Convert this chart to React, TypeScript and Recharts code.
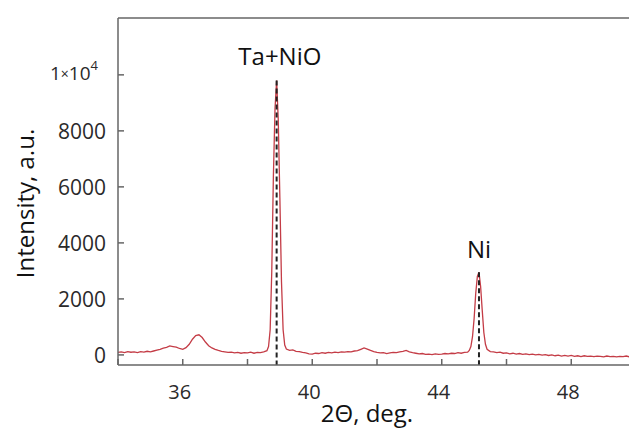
import {
  Line,
  LineChart,
  ReferenceDot,
  ReferenceLine,
  XAxis,
  YAxis,
  Label,
} from "recharts";

// 2θ positions (deg) and measured intensity (a.u.)
const twoTheta = [
  34.0, 34.1, 34.2, 34.3, 34.4, 34.5, 34.6, 34.7, 34.8, 34.9,
  35.0, 35.1, 35.2, 35.3, 35.4, 35.5, 35.6, 35.7, 35.8, 35.9,
  36.0, 36.1, 36.2, 36.3, 36.4, 36.5, 36.6, 36.7, 36.8, 36.9,
  37.0, 37.1, 37.2, 37.3, 37.4, 37.5, 37.6, 37.7, 37.8, 37.9,
  38.0, 38.1, 38.2, 38.3, 38.4, 38.5, 38.6, 38.65, 38.7, 38.75,
  38.8, 38.85, 38.9, 38.95, 39.0, 39.05, 39.1, 39.15, 39.2, 39.3,
  39.4, 39.5, 39.6, 39.7, 39.8, 39.9, 40.0, 40.1, 40.2, 40.3,
  40.4, 40.5, 40.6, 40.7, 40.8, 40.9, 41.0, 41.1, 41.2, 41.3,
  41.4, 41.5, 41.6, 41.7, 41.8, 41.9, 42.0, 42.1, 42.2, 42.3,
  42.4, 42.5, 42.6, 42.7, 42.8, 42.9, 43.0, 43.1, 43.2, 43.3,
  43.4, 43.5, 43.6, 43.7, 43.8, 43.9, 44.0, 44.1, 44.2, 44.3,
  44.4, 44.5, 44.6, 44.7, 44.8, 44.85, 44.9, 44.95, 45.0, 45.05,
  45.1, 45.15, 45.2, 45.25, 45.3, 45.35, 45.4, 45.5, 45.6, 45.7,
  45.8, 45.9, 46.0, 46.1, 46.2, 46.3, 46.4, 46.5, 46.6, 46.7,
  46.8, 46.9, 47.0, 47.1, 47.2, 47.3, 47.4, 47.5, 47.6, 47.7,
  47.8, 47.9, 48.0, 48.1, 48.2, 48.3, 48.4, 48.5, 48.6, 48.7,
  48.8, 48.9, 49.0, 49.1, 49.2, 49.3, 49.4, 49.5, 49.6, 49.7,
  49.8, 49.9, 50.0,
];

const intensity = [
  90, 110, 80, 120, 95, 105, 85, 115, 100, 130,
  110, 140, 170, 200, 240, 270, 320, 300, 280, 230,
  200, 260, 380, 560, 690, 720, 620, 460, 330, 250,
  200, 160, 130, 110, 90, 100, 70, 90, 60, 80,
  70, 100, 60, 90, 80, 110, 150, 300, 900, 3000,
  6400, 8800, 9800, 8400, 5600, 2600, 900, 350, 210, 160,
  180, 130, 120, 90, 70, 40, 30, 60, 50, 80,
  60, 90, 70, 100, 80, 110, 100, 120, 110, 140,
  150, 200, 250, 210, 160, 120, 90, 70, 80, 50,
  70, 90, 80, 110, 130, 160, 110, 80, 60, 40,
  50, 20, 30, 10, 40, 20, 30, 50, 40, 60,
  50, 80, 60, 90, 100, 160, 300, 650, 1300, 2200,
  2800, 2950, 2450, 1600, 800, 380, 200, 120, 110, 80,
  100, 60, 70, 40, 60, 30, 50, 20, 40, 10,
  30, 0, 20, -10, 10, -20, 0, -30, -10, -40,
  -20, -40, -20, -50, -30, -60, -30, -50, -40, -60,
  -40, -50, -70, -40, -60, -50, -70, -50, -60, -40,
  -70, -50, -60,
];

const xTicks = [34, 36, 38, 40, 42, 44, 46, 48, 50];
const xLabelled = [36, 40, 44, 48];
const yTicks = [0, 2000, 4000, 6000, 8000, 10000];

const peakNames = ["Ta+NiO", "Ni"];
const peakPos = [38.9, 45.15];
const peakTop = [9800, 2950];
const peakLabelY = [10650, 3750];

const data = twoTheta.map((t, i) => ({ t, v: intensity[i] }));

const FONT = "'Open Sans', 'DejaVu Sans', sans-serif";
const AXIS = "#666";
const TEXT = "#2a2a2a";
const RED = "#c43c46";

const Y_MIN = -360;
const Y_MAX = 12030;

function XTick({ x, y, payload }: any) {
  if (!xLabelled.includes(payload.value)) return null;
  return (
    <text
      x={x - 3}
      y={y}
      textAnchor="middle"
      dominantBaseline="central"
      fontFamily={FONT}
      fontSize={20}
      fill={TEXT}
    >
      {payload.value}
    </text>
  );
}

function YTick({ x, y, payload }: any) {
  if (payload.value === 10000) {
    return (
      <text
        x={x - 8}
        y={y - 2}
        textAnchor="end"
        dominantBaseline="central"
        fontFamily={FONT}
        fontSize={19}
        fill={TEXT}
      >
        1<tspan fontSize={14}>×</tspan>10
        <tspan dy={-8} fontSize={13}>
          4
        </tspan>
      </text>
    );
  }
  return (
    <text
      x={x}
      y={y}
      textAnchor="end"
      dominantBaseline="central"
      fontFamily={FONT}
      fontSize={21}
      fill={TEXT}
    >
      {payload.value}
    </text>
  );
}

export default function App() {
  return (
    <div
      style={{
        position: "absolute",
        left: 0,
        top: 0,
        width: 629,
        height: 430,
        overflow: "hidden",
        background: "#fff",
      }}
    >
      <LineChart
        width={640}
        height={430}
        data={data}
        margin={{ top: 8, right: 4, bottom: 5, left: 58 }}
      >
        <XAxis
          dataKey="t"
          type="number"
          domain={[34, 50]}
          ticks={xTicks}
          allowDataOverflow
          height={60}
          tickSize={-6}
          tickMargin={32}
          tick={<XTick />}
          axisLine={{ stroke: AXIS, strokeWidth: 1.5 }}
          tickLine={{ stroke: AXIS, strokeWidth: 1.5 }}
        >
          <Label
            content={({ viewBox }: any) => (
              <text
                x={viewBox.x + viewBox.width / 2 - 10}
                y={viewBox.y + 47}
                textAnchor="middle"
                dominantBaseline="central"
                fontFamily={FONT}
                fontSize={24}
                fill="#111"
              >
                2Θ, deg.
              </text>
            )}
          />
        </XAxis>
        <XAxis
          xAxisId="top"
          orientation="top"
          type="number"
          domain={[34, 50]}
          ticks={xTicks}
          allowDataOverflow
          height={10}
          tickSize={-6}
          tick={false}
          axisLine={{ stroke: AXIS, strokeWidth: 1.5 }}
          tickLine={{ stroke: AXIS, strokeWidth: 1.5 }}
        />
        <YAxis
          type="number"
          domain={[Y_MIN, Y_MAX]}
          ticks={yTicks}
          allowDataOverflow
          width={60}
          tickSize={-6}
          tickMargin={18}
          tick={<YTick />}
          axisLine={{ stroke: AXIS, strokeWidth: 1.5 }}
          tickLine={{ stroke: AXIS, strokeWidth: 1.5 }}
        >
          <Label
            content={({ viewBox }: any) => {
              const cx = viewBox.x - 34;
              const cy = viewBox.y + viewBox.height / 2 + 12;
              return (
                <text
                  x={cx}
                  y={cy}
                  transform={`rotate(-90, ${cx}, ${cy})`}
                  textAnchor="middle"
                  dominantBaseline="central"
                  fontFamily={FONT}
                  fontSize={24}
                  fill="#111"
                >
                  Intensity, a.u.
                </text>
              );
            }}
          />
        </YAxis>
        <Line
          dataKey="v"
          type="linear"
          stroke={RED}
          strokeWidth={1.3}
          dot={false}
          isAnimationActive={false}
        />
        {peakPos.map((p, i) => (
          <ReferenceLine
            key={peakNames[i]}
            segment={[
              { x: p, y: peakTop[i] },
              { x: p, y: Y_MIN },
            ]}
            stroke="#222"
            strokeWidth={2}
            strokeDasharray="5 3"
          />
        ))}
        {peakPos.map((p, i) => (
          <ReferenceDot
            key={"lbl" + peakNames[i]}
            x={p + (i === 0 ? 0.1 : 0)}
            y={peakLabelY[i]}
            r={0.1}
            fill="none"
            stroke="none"
            label={{
              value: peakNames[i],
              position: "center",
              fontFamily: FONT,
              fontSize: 24,
              fill: "#111",
            }}
          />
        ))}
      </LineChart>
    </div>
  );
}
